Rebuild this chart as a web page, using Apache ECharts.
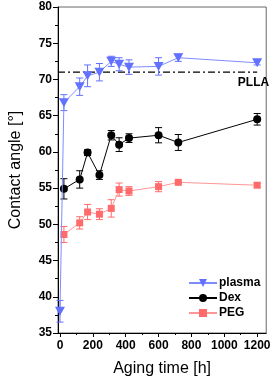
<!DOCTYPE html>
<html><head><meta charset="utf-8">
<script src="https://cdn.jsdelivr.net/npm/echarts@6/dist/echarts.min.js"></script>
<style>html,body{margin:0;padding:0;background:#fff}#c{width:273px;height:382px}</style>
</head><body><div id="c"></div>
<script>
var hours = [0, 24, 120, 168, 240, 312, 360, 420, 600, 720, 1200];
var plasma = [38.0, 66.8, 69.0, 70.5, 71.0, 72.5, 72.1, 71.7, 71.8, 73.0, 72.3];
var plasmaErr = [1.5, 1.1, 1.2, 1.5, 1.2, 0.7, 0.9, 1.0, 1.2, 0.5, 0.3];
var dexHours = [24, 120, 168, 240, 312, 360, 420, 600, 720, 1200];
var dex = [54.9, 56.2, 59.9, 56.8, 62.3, 61.0, 61.9, 62.3, 61.3, 64.5];
var dexErr = [1.4, 1.2, 0.4, 0.6, 0.65, 0.95, 0.6, 1.05, 1.1, 0.8];
var peg = [48.6, 50.2, 51.7, 51.4, 52.2, 54.8, 54.6, 55.2, 55.8, 55.4];
var pegErr = [1.1, 0.85, 1.05, 0.75, 1.2, 0.9, 0.6, 0.7, 0.2, 0.3];
var pllaValue = 71.0;
var xTicks = [0, 200, 400, 600, 800, 1000, 1200];
var xMinorTicks = [100, 300, 500, 700, 900, 1100];

var cPlasma = '#6272ff', cPlasmaLine = '#7e8cff';
var cDex = '#000000';
var cPeg = '#ff6b6b', cPegLine = '#ff9696';

function pts(xs, ys){ return xs.map(function(x,i){ return [x, ys[i]]; }); }
function errPts(xs, ys, es){ return xs.map(function(x,i){ return [x, ys[i], es[i]]; }); }
function errSeries(name, data, color){
  return {
    type: 'custom', name: name + '_err', silent: true, z: 3,
    data: data,
    renderItem: function(params, api){
      var x = api.value(0), y = api.value(1), e = api.value(2);
      var hi = api.coord([x, y + e]), lo = api.coord([x, y - e]);
      var w = 3.5;
      var st = {stroke: color, lineWidth: 1};
      return {type: 'group', children: [
        {type: 'line', shape: {x1: hi[0], y1: hi[1], x2: lo[0], y2: lo[1]}, style: st},
        {type: 'line', shape: {x1: hi[0]-w, y1: hi[1], x2: hi[0]+w, y2: hi[1]}, style: st},
        {type: 'line', shape: {x1: lo[0]-w, y1: lo[1], x2: lo[0]+w, y2: lo[1]}, style: st}
      ]};
    }
  };
}
var boldFont = '"Liberation Sans", Arial, sans-serif';
var chart = echarts.init(document.getElementById('c'));
chart.setOption({
  animation: false,
  grid: {left: 46, right: 6, top: 7, bottom: 46, show: true, borderColor: '#666', borderWidth: 1},
  legend: {
    orient: 'vertical', left: 183, top: 272, itemGap: 3, itemWidth: 28, itemHeight: 10,
    data: ['plasma', 'Dex', 'PEG'],
    textStyle: {fontFamily: boldFont, fontWeight: 'bold', fontSize: 12, color: '#000', padding: [0,0,0,-3]}
  },
  xAxis: [{
    type: 'value', min: -12, max: 1255,
    name: 'Aging time [h]', nameLocation: 'middle', nameGap: 28,
    nameTextStyle: {fontFamily: boldFont, fontSize: 16, color: '#000'},
    axisLine: {show: true, onZero: false, lineStyle: {color: '#000', width: 1}},
    axisTick: {show: true, length: 4, customValues: xTicks, lineStyle: {color: '#000'}},
    axisLabel: {customValues: xTicks, margin: 7, fontFamily: boldFont, fontWeight: 'bold', fontSize: 12, color: '#000',
      formatter: function(v){ return String(v); }},
    splitLine: {show: false}
  }, {
    type: 'value', min: -12, max: 1255, position: 'bottom', gridIndex: 0,
    axisLine: {show: false},
    axisTick: {show: true, length: 2, customValues: xMinorTicks, lineStyle: {color: '#000'}},
    axisLabel: {show: false}, splitLine: {show: false}
  }],
  yAxis: {
    type: 'value', min: 35, max: 80, interval: 5,
    name: 'Contact angle [°]', nameLocation: 'middle', nameGap: 34,
    nameTextStyle: {fontFamily: boldFont, fontSize: 16, color: '#000'},
    axisLine: {show: true, onZero: false, lineStyle: {color: '#000', width: 1}},
    axisTick: {show: true, length: 5, lineStyle: {color: '#000'}},
    minorTick: {show: true, splitNumber: 2, length: 3, lineStyle: {color: '#000'}},
    axisLabel: {margin: 6, fontFamily: boldFont, fontWeight: 'bold', fontSize: 12, color: '#000'},
    splitLine: {show: false}
  },
  series: [
    {
      type: 'line', name: 'PLLA', silent: true, symbol: 'none', z: 1,
      data: [[-12, pllaValue], [1200, pllaValue]],
      lineStyle: {color: '#000', width: 1.3, type: [7, 3, 2, 3]},
      endLabel: {show: true, formatter: 'PLLA', align: 'right', verticalAlign: 'top', offset: [4, 4],
        fontFamily: boldFont, fontWeight: 'bold', fontSize: 12, color: '#000'}
    },
    errSeries('PEG', errPts(dexHours, peg, pegErr), cPeg),
    {
      type: 'line', name: 'PEG', data: pts(dexHours, peg), z: 4,
      symbol: 'rect', symbolSize: 7,
      itemStyle: {color: cPeg}, lineStyle: {color: cPegLine, width: 1}
    },
    errSeries('Dex', errPts(dexHours, dex, dexErr), cDex),
    {
      type: 'line', name: 'Dex', data: pts(dexHours, dex), z: 5,
      symbol: 'circle', symbolSize: 8,
      itemStyle: {color: cDex}, lineStyle: {color: cDex, width: 1}
    },
    errSeries('plasma', errPts(hours, plasma, plasmaErr), cPlasma),
    {
      type: 'line', name: 'plasma', data: pts(hours, plasma), z: 6,
      symbol: 'triangle', symbolRotate: 180, symbolSize: [10, 9],
      itemStyle: {color: cPlasma}, lineStyle: {color: cPlasmaLine, width: 1}
    }
  ]
});
</script></body></html>
